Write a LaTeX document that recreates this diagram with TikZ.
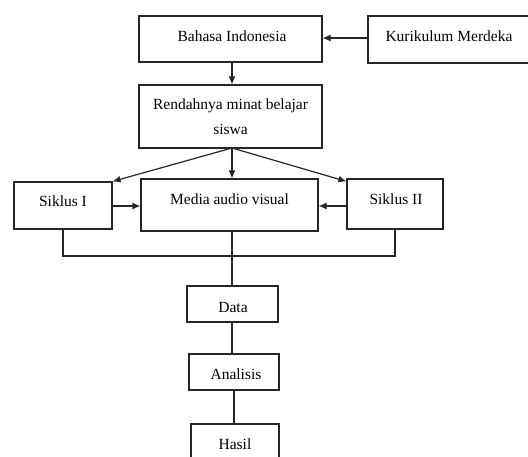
\documentclass[tikz,border=0pt]{standalone}
\usepackage{fontspec}
\setmainfont{Liberation Serif}
\usetikzlibrary{arrows.meta,calc}
\begin{document}
\begin{tikzpicture}[x=1pt,y=-1pt,
  box/.style={draw=black!85,line width=1.2pt},
  lbl/.style={anchor=base,inner sep=0pt,font=\fontsize{15.5}{25}\selectfont},
  conn/.style={draw=black!85,line width=1.2pt},
  arr/.style={conn,-{Latex[length=8pt,width=7pt]}}]
\clip (0,0) rectangle (528,456);
\fill[white] (0,0) rectangle (528,456);
% boxes
\node[box,minimum width=183pt,minimum height=46pt,inner sep=0pt] (bahasa) at (230.5,39) {};
\node[box,minimum width=172pt,minimum height=47pt,inner sep=0pt] (kurikulum) at (454,39.5) {};
\node[box,minimum width=183pt,minimum height=63pt,inner sep=0pt,align=center,font=\fontsize{15.5}{25}\selectfont] (rend) at (230.5,116.5) {Rendahnya minat belajar\\siswa};
\node[box,minimum width=98pt,minimum height=47pt,inner sep=0pt] (siklus1) at (63,205.5) {};
\node[box,minimum width=177pt,minimum height=52pt,inner sep=0pt] (media) at (229.5,205) {};
\node[box,minimum width=96pt,minimum height=50pt,inner sep=0pt] (siklus2) at (395,204) {};
\node[box,minimum width=91pt,minimum height=36pt,inner sep=0pt] (data) at (232.5,304) {};
\node[box,minimum width=90pt,minimum height=36pt,inner sep=0pt] (analisis) at (234,372) {};
\node[box,minimum width=88pt,minimum height=46pt,inner sep=0pt] (hasil) at (235,447) {};
% labels
\node[lbl] (tbahasa) at (232,41) {Bahasa Indonesia};
\node[lbl] (tkur) at (449,41) {Kurikulum Merdeka};
\node[lbl] (tsik1) at (63,206) {Siklus I};
\node[lbl] (tmedia) at (229.5,204.5) {Media audio visual};
\node[lbl] (tsik2) at (396,204) {Siklus II};
\node[lbl] (tdata) at (233,312) {Data};
\node[lbl] (tanal) at (236,379) {Analisis};
\node[lbl] (thasil) at (235,449) {Hasil};
% connectors
\draw[arr] (kurikulum.west |- 0,38) -- (bahasa.east |- 0,38);
\draw[arr] (232,0 |- bahasa.south) -- (232,0 |- rend.north);
\coordinate (rs) at (232,148);
\draw[arr] (rs) -- (siklus1.north east);
\draw[arr] (rs) -- (232,0 |- media.north);
\draw[arr] (rs) -- ($(siklus2.north west)+(0,3)$);
\draw[arr] (siklus1.east |- 0,206) -- (media.west |- 0,206);
\draw[arr] (siklus2.west |- 0,206) -- (media.east |- 0,206);
\coordinate (bus) at (232,256);
\draw[conn] (siklus1.south) |- (bus) -| (siklus2.south);
\draw[conn] (232,0 |- media.south) -- (232,0 |- data.north);
\draw[conn] (232,0 |- data.south) -- (232,0 |- analisis.north);
\draw[conn] (234,0 |- analisis.south) -- (234,0 |- hasil.north);
\end{tikzpicture}
\end{document}
